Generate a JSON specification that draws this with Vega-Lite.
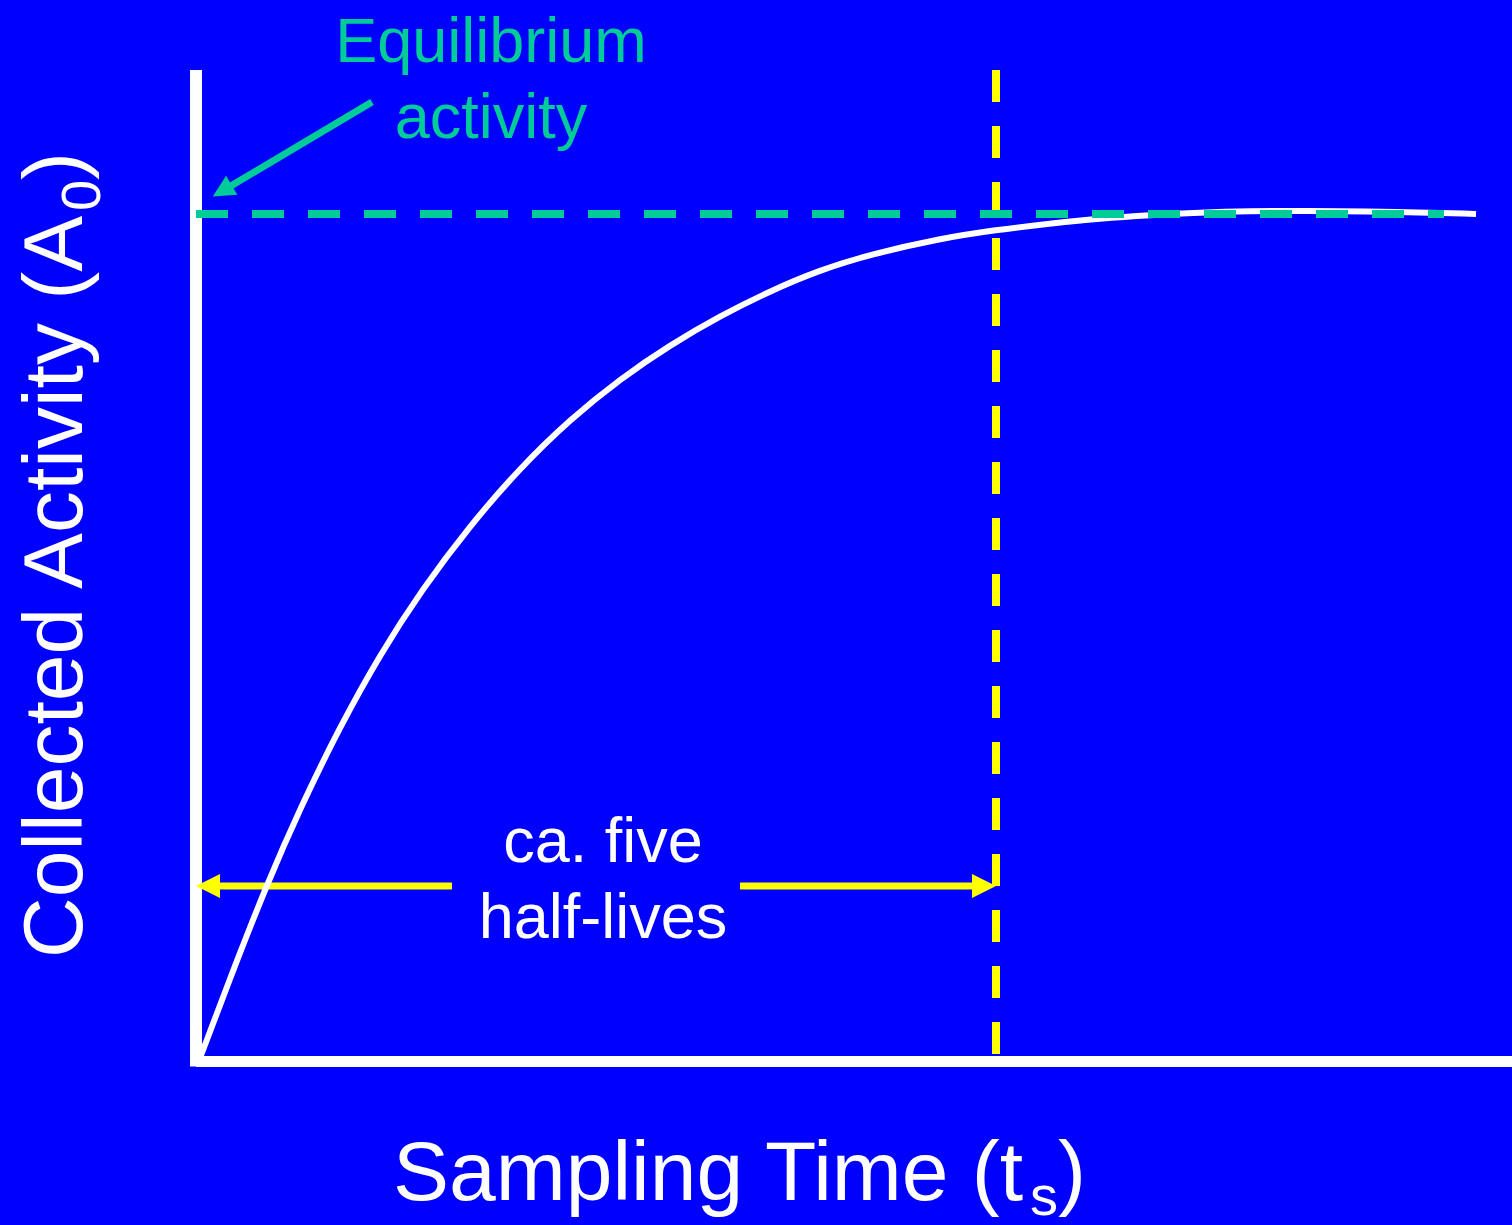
{
  "$schema": "https://vega.github.io/schema/vega-lite/v6.json",
  "width": 1512,
  "height": 1225,
  "padding": 0,
  "autosize": {"type": "none"},
  "background": "#0000FF",
  "config": {"view": {"stroke": null}},
  "encoding": {
    "x": {"field": "x", "type": "quantitative", "axis": null, "scale": {"domain": [-1.225, 8.225], "nice": false, "zero": false}},
    "y": {"field": "y", "type": "quantitative", "axis": null, "scale": {"domain": [-0.193625, 1.252656], "nice": false, "zero": false}}
  },
  "layer": [
    {
      "data": {"values": [{"x": 0, "x2": 8.3, "y": -0.0006}]},
      "mark": {"type": "rule", "color": "#FFFFFF", "strokeWidth": 11, "strokeCap": "butt"},
      "encoding": {"x2": {"field": "x2"}}
    },
    {
      "data": {"values": [{"x": 0, "y": -0.0066, "y2": 1.170}]},
      "mark": {"type": "rule", "color": "#FFFFFF", "strokeWidth": 12, "strokeCap": "butt"},
      "encoding": {"y2": {"field": "y2"}}
    },
    {
      "data": {"values": [{"x": 5, "y": 1.170, "y2": 0.007}]},
      "mark": {"type": "rule", "color": "#FFFF00", "strokeWidth": 8, "strokeDash": [32, 24], "strokeCap": "butt"},
      "encoding": {"y2": {"field": "y2"}}
    },
    {
      "data": {"values": [{"x": 0.1, "x2": 1.6, "y": 0.2066}, {"x": 3.4, "x2": 4.9, "y": 0.2066}]},
      "mark": {"type": "rule", "color": "#FFFF00", "strokeWidth": 7, "strokeCap": "butt"},
      "encoding": {"x2": {"field": "x2"}}
    },
    {
      "data": {"values": [{"x": 0.075, "y": 0.2066}]},
      "mark": {"type": "point", "shape": "M -1 0 L 1 -1 L 1 1 Z", "filled": true, "color": "#FFFF00", "opacity": 1, "size": 576, "strokeWidth": 0}
    },
    {
      "data": {"values": [{"x": 4.925, "y": 0.2066}]},
      "mark": {"type": "point", "shape": "M 1 0 L -1 -1 L -1 1 Z", "filled": true, "color": "#FFFF00", "opacity": 1, "size": 576, "strokeWidth": 0}
    },
    {
      "data": {"values": [
        {"x": 0.025, "y": 0.0035},
        {"x": 0.2313, "y": 0.1068},
        {"x": 0.4375, "y": 0.206},
        {"x": 0.65, "y": 0.2981},
        {"x": 0.9, "y": 0.3949},
        {"x": 1.15, "y": 0.4799},
        {"x": 1.4125, "y": 0.5567},
        {"x": 1.7125, "y": 0.6322},
        {"x": 2.025, "y": 0.7001},
        {"x": 2.3375, "y": 0.7574},
        {"x": 2.65, "y": 0.8052},
        {"x": 2.9625, "y": 0.8453},
        {"x": 3.275, "y": 0.8796},
        {"x": 3.5875, "y": 0.9091},
        {"x": 3.9, "y": 0.9339},
        {"x": 4.2125, "y": 0.9522},
        {"x": 4.65, "y": 0.9711},
        {"x": 5.0, "y": 0.9811},
        {"x": 5.3375, "y": 0.9888},
        {"x": 5.65, "y": 0.9947},
        {"x": 5.9625, "y": 0.9988},
        {"x": 6.275, "y": 1.0018},
        {"x": 6.5875, "y": 1.0035},
        {"x": 6.9, "y": 1.0039},
        {"x": 7.525, "y": 1.0027},
        {"x": 8.0, "y": 1.0}
      ]},
      "mark": {"type": "line", "color": "#FFFFFF", "strokeWidth": 6, "interpolate": "basis", "strokeCap": "butt"}
    },
    {
      "data": {"values": [{"x": 0, "x2": 7.8, "y": 1.0}]},
      "mark": {"type": "rule", "color": "#00CC99", "strokeWidth": 8, "strokeDash": [32, 24], "strokeCap": "butt"},
      "encoding": {"x2": {"field": "x2"}}
    },
    {
      "data": {"values": [{"x": 1.1, "y": 1.1322, "x2": 0.17, "y2": 1.0277}]},
      "mark": {"type": "rule", "color": "#00CC99", "strokeWidth": 7, "strokeCap": "butt"},
      "encoding": {"x2": {"field": "x2"}, "y2": {"field": "y2"}}
    },
    {
      "data": {"values": [{"x": 0.164, "y": 1.0273}]},
      "mark": {"type": "point", "shape": "M -1 0 L 1 -1 L 1 1 Z", "filled": true, "color": "#00CC99", "opacity": 1, "size": 484, "angle": 329.3, "strokeWidth": 0}
    },
    {
      "data": {"values": [{"x": 1.844, "y": 1.1795, "label": "Equilibrium"}, {"x": 1.844, "y": 1.0897, "label": "activity"}]},
      "mark": {"type": "text", "color": "#00CC99", "font": "Liberation Sans", "fontSize": 63, "align": "center", "baseline": "alphabetic"},
      "encoding": {"text": {"field": "label"}}
    },
    {
      "data": {"values": [{"x": 2.544, "y": 0.2349, "label": "ca. five"}, {"x": 2.544, "y": 0.1452, "label": "half-lives"}]},
      "mark": {"type": "text", "color": "#FFFFFF", "font": "Liberation Sans", "fontSize": 63, "align": "center", "baseline": "alphabetic"},
      "encoding": {"text": {"field": "label"}}
    },
    {
      "data": {"values": [{"x": 1.231, "y": -0.1641, "label": "Sampling Time (t"}, {"x": 5.3875, "y": -0.1641, "label": ")"}]},
      "mark": {"type": "text", "color": "#FFFFFF", "font": "Liberation Sans", "fontSize": 84, "align": "left", "baseline": "alphabetic"},
      "encoding": {"text": {"field": "label"}}
    },
    {
      "data": {"values": [{"x": 5.2125, "y": -0.182, "label": "s"}]},
      "mark": {"type": "text", "color": "#FFFFFF", "font": "Liberation Sans", "fontSize": 56, "align": "left", "baseline": "alphabetic"},
      "encoding": {"text": {"field": "label"}}
    },
    {
      "data": {"values": [{"x": -0.7125, "y": 0.1216, "label": "Collected Activity (A"}, {"x": -0.7125, "y": 1.0401, "label": ")"}]},
      "mark": {"type": "text", "color": "#FFFFFF", "font": "Liberation Sans", "fontSize": 84, "align": "left", "baseline": "alphabetic", "angle": 270},
      "encoding": {"text": {"field": "label"}}
    },
    {
      "data": {"values": [{"x": -0.6, "y": 1.0035, "label": "0"}]},
      "mark": {"type": "text", "color": "#FFFFFF", "font": "Liberation Sans", "fontSize": 56, "align": "left", "baseline": "alphabetic", "angle": 270},
      "encoding": {"text": {"field": "label"}}
    }
  ]
}
